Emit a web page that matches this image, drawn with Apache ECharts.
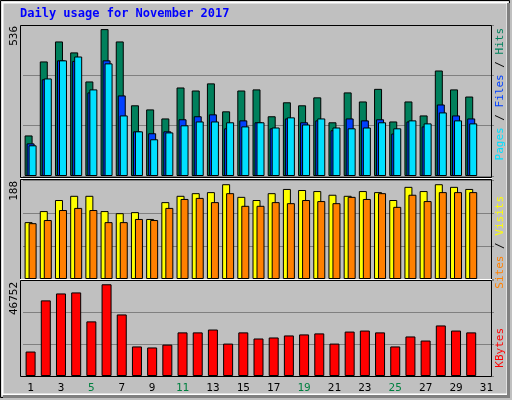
<!DOCTYPE html>
<html><head><meta charset="utf-8">
<script src="https://cdn.jsdelivr.net/npm/echarts@6/dist/echarts.min.js"></script>
<style>html,body{margin:0;padding:0;background:#c0c0c0}#c{width:512px;height:400px}</style>
</head><body><div id="c"></div>
<script>
const days = ['1','2','3','4','5','6','7','8','9','10','11','12','13','14','15','16','17','18','19','20','21','22','23','24','25','26','27','28','29','30','31'];
const weekend = ['4','5','11','12','18','19','25','26'];
const hits  = [148,418,491,451,345,536,491,258,243,210,323,312,338,236,312,316,218,269,258,287,196,305,272,318,199,272,221,385,316,290];
const files = [119,353,422,420,305,422,294,163,156,163,207,218,225,174,203,196,174,210,196,203,167,210,203,207,155,199,181,261,221,210];
const pages = [112,356,422,436,316,411,221,163,134,159,185,199,199,196,181,196,177,214,188,210,177,174,177,196,174,203,192,232,203,192];
const visits= [108,129,150,158,158,129,125,127,114,146,158,163,165,180,156,150,163,171,169,167,160,158,167,165,150,175,167,180,175,171];
const sites = [106,112,131,135,131,108,108,114,112,135,152,154,146,163,139,139,146,144,150,148,144,156,152,163,137,160,148,165,165,165];
const kbytes= [12000,37100,40500,41000,26800,45000,30200,14500,14000,15400,21400,21400,22800,15900,21400,18400,18900,19900,20400,20900,15900,21800,22300,21400,14500,19400,17400,24800,22300,21400];
const maxLabels = ['536','188','46752'];

const chart = echarts.init(document.getElementById('c'));
const L=23, W=471;
const grids=[{left:L,width:W,top:25,height:151},{left:L,width:W,top:180,height:99},{left:L,width:W,top:280,height:96}];
const maxes=[551,188,47100];
const bs={borderColor:'#000',borderWidth:1};
function xa(i){return {type:'category',gridIndex:i,data:days,axisTick:{show:false},axisLine:{show:false},
  axisLabel:i===2?{show:true,fontFamily:'DejaVu Sans Mono',fontSize:11,margin:7,
    color:(v)=>weekend.includes(v)?'#008040':'#000'}:{show:false}};}
function ya(i){return {type:'value',gridIndex:i,min:0,max:maxes[i],interval:maxes[i]/3,axisLabel:{show:false},
  axisLine:{show:false},axisTick:{show:false},splitLine:{lineStyle:{color:'#808080',width:1}}};}
function bar(data,color,i,w,gap){return {type:'bar',data,xAxisIndex:i,yAxisIndex:i,barWidth:w,barGap:gap,
  itemStyle:Object.assign({color},bs),animation:false,silent:true};}
chart.setOption({
  animation:false,
  backgroundColor:'#c0c0c0',
  grid:grids,
  xAxis:[xa(0),xa(1),xa(2)],
  yAxis:[ya(0),ya(1),ya(2)],
  series:[
    bar(hits,'#00805c',0,8,'-75%'),bar(files,'#0040ff',0,8,'-75%'),bar(pages,'#00e0ff',0,8,'-75%'),
    bar(visits,'#ffff00',1,8,'-50%'),bar(sites,'#ff8000',1,8,'-50%'),
    bar(kbytes,'#ff0000',2,10,'0%')
  ],
  graphic:[
    {type:'rect',z:-1,shape:{x:0.5,y:0.5,width:509,height:397},style:{fill:'none',stroke:'#000',lineWidth:1}},
    {type:'rect',z:-1,shape:{x:2.5,y:2.5,width:505,height:392},style:{fill:'none',stroke:'#fff',lineWidth:2}},
    {type:'rect',z:-1,shape:{x:507,y:3,width:3,height:395},style:{fill:'#808080'}},
    {type:'rect',z:-1,shape:{x:3,y:395,width:507,height:3},style:{fill:'#808080'}},
    {type:'rect',z:10,shape:{x:20.5,y:25.5,width:471,height:152},style:{fill:'none',stroke:'#000',lineWidth:1}},
    {type:'rect',z:10,shape:{x:20.5,y:179.5,width:471,height:100},style:{fill:'none',stroke:'#000',lineWidth:1}},
    {type:'rect',z:10,shape:{x:20.5,y:280.5,width:471,height:96},style:{fill:'none',stroke:'#000',lineWidth:1}},
    {type:'line',z:11,shape:{x1:20,y1:178.5,x2:492,y2:178.5},style:{stroke:'#fff',lineWidth:1}},
    {type:'line',z:11,shape:{x1:20,y1:279.5,x2:492,y2:279.5},style:{stroke:'#fff',lineWidth:1}},
    {type:'text',left:20,top:8,style:{text:'Daily usage for November 2017',fill:'#0000ff',font:'bold 12px "DejaVu Sans Mono"'}},
    {type:'text',x:9,y:26,rotation:Math.PI/2,style:{text:maxLabels[0],fill:'#000',font:'11px "DejaVu Sans Mono"',align:'right',verticalAlign:'top'}},
    {type:'text',x:9,y:181,rotation:Math.PI/2,style:{text:maxLabels[1],fill:'#000',font:'11px "DejaVu Sans Mono"',align:'right',verticalAlign:'top'}},
    {type:'text',x:9,y:282,rotation:Math.PI/2,style:{text:maxLabels[2],fill:'#000',font:'11px "DejaVu Sans Mono"',align:'right',verticalAlign:'top'}},
    {type:'text',x:495,y:28,rotation:Math.PI/2,style:{align:'right',verticalAlign:'top',font:'11px "DejaVu Sans Mono"',
      rich:{a:{fill:'#00e0ff',font:'11px "DejaVu Sans Mono"'},b:{fill:'#0040ff',font:'11px "DejaVu Sans Mono"'},c:{fill:'#00805c',font:'11px "DejaVu Sans Mono"'},k:{fill:'#000',font:'11px "DejaVu Sans Mono"'}},
      text:'{a|Pages}{k| / }{b|Files}{k| / }{c|Hits}'}},
    {type:'text',x:495,y:196,rotation:Math.PI/2,style:{align:'right',verticalAlign:'top',font:'11px "DejaVu Sans Mono"',
      rich:{a:{fill:'#ff8000',font:'11px "DejaVu Sans Mono"'},b:{fill:'#ffff00',font:'11px "DejaVu Sans Mono"'},k:{fill:'#000',font:'11px "DejaVu Sans Mono"'}},
      text:'{a|Sites}{k| / }{b|Visits}'}},
    {type:'text',x:495,y:328,rotation:Math.PI/2,style:{align:'right',verticalAlign:'top',text:'KBytes',fill:'#ff0000',font:'11px "DejaVu Sans Mono"'}}
  ]
});
</script></body></html>
